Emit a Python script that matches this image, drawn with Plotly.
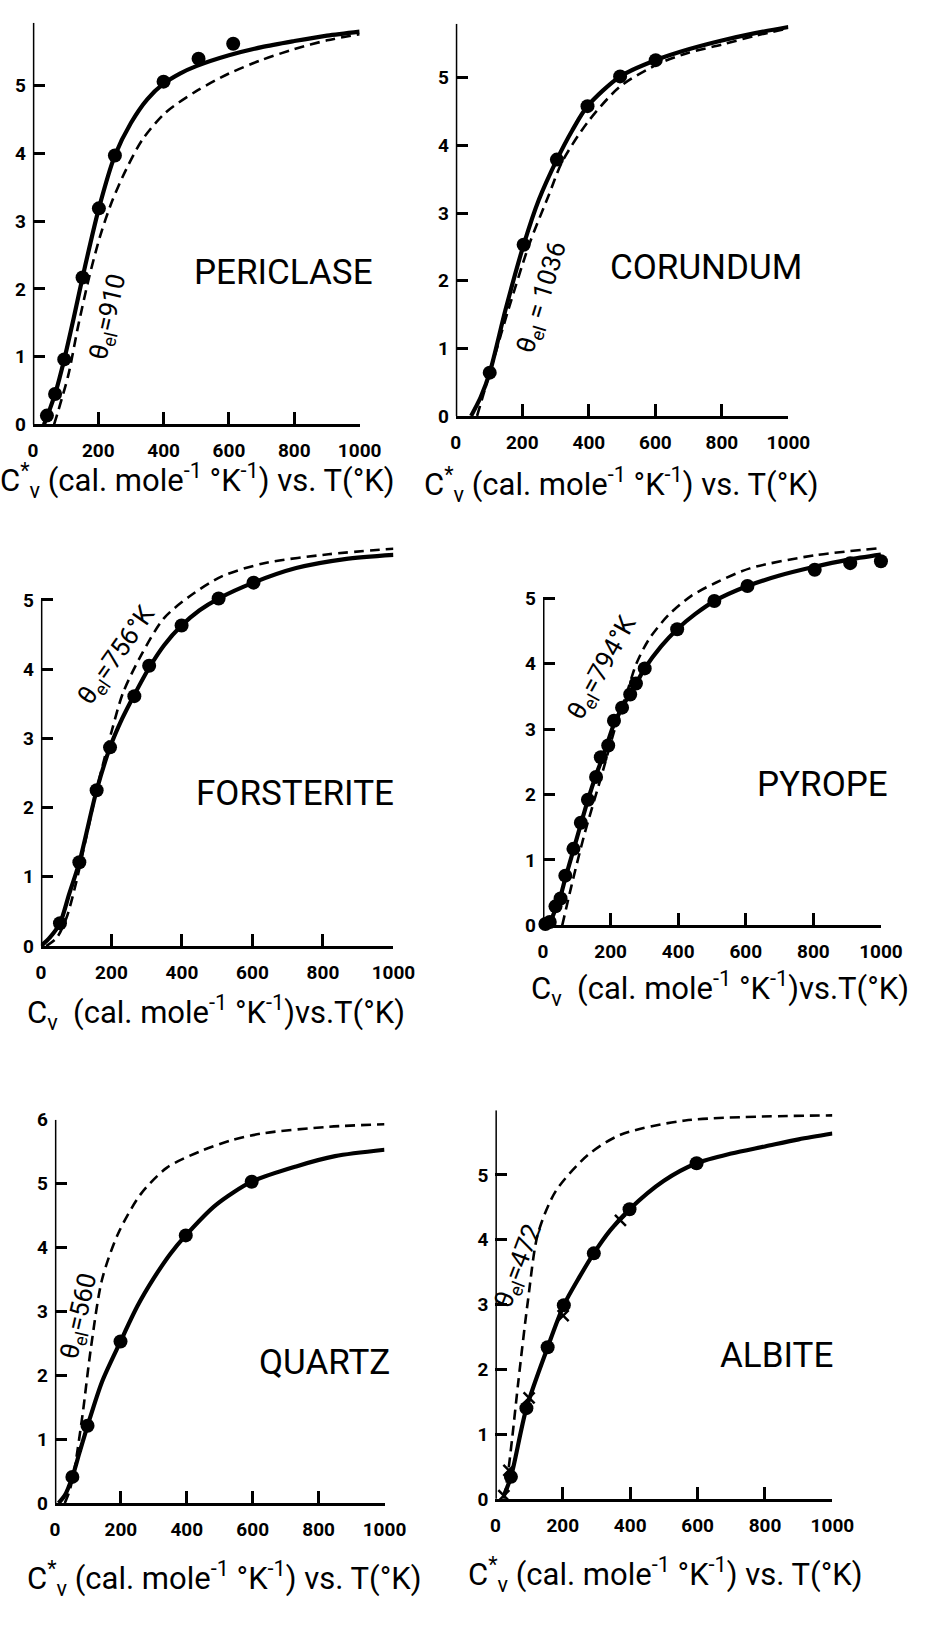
import plotly.graph_objects as go

W, H = 935, 1642
FONT = "Roboto, Liberation Sans, sans-serif"

T_TICKS = [0, 200, 400, 600, 800, 1000]

# ---------------- data ----------------
# Periclase
per_obs_T = [43, 68, 96, 152, 202, 251, 400, 507, 613]
per_obs_C = [0.13, 0.45, 0.96, 2.17, 3.19, 3.97, 5.06, 5.40, 5.62]
per_fit_T = [34, 50, 68, 96, 125, 152, 202, 251, 300, 350, 400, 450, 500, 600, 700, 800, 900, 1000]
per_fit_C = [0.0, 0.2, 0.45, 0.96, 1.57, 2.17, 3.19, 3.97, 4.45, 4.80, 5.03, 5.18, 5.29, 5.45, 5.57, 5.66, 5.74, 5.80]
per_deb_T = [65, 108, 138, 172, 207, 242, 286, 336, 405, 500, 600, 700, 800, 900, 1000]
per_deb_C = [0.0, 0.72, 1.44, 2.17, 2.80, 3.29, 3.77, 4.21, 4.60, 4.92, 5.18, 5.38, 5.54, 5.67, 5.76]

# Corundum
cor_obs_T = [102, 204, 304, 396, 494, 601]
cor_obs_C = [0.64, 2.53, 3.79, 4.58, 5.02, 5.26]
cor_fit_T = [46, 75, 102, 150, 204, 250, 304, 350, 396, 494, 601, 700, 800, 900, 1000]
cor_fit_C = [0.0, 0.28, 0.64, 1.58, 2.53, 3.20, 3.79, 4.22, 4.58, 5.02, 5.26, 5.42, 5.55, 5.66, 5.75]
cor_deb_T = [64, 114, 158, 221, 280, 319, 396, 494, 611, 700, 800, 900, 1000]
cor_deb_C = [0.0, 0.84, 1.57, 2.54, 3.27, 3.75, 4.34, 4.87, 5.21, 5.37, 5.49, 5.62, 5.73]

# Forsterite
for_obs_T = [54, 109, 158, 196, 265, 307, 399, 504, 603]
for_obs_C = [0.33, 1.21, 2.25, 2.87, 3.61, 4.05, 4.63, 5.02, 5.25]
for_fit_T = [0, 25, 54, 80, 109, 158, 196, 230, 265, 307, 350, 399, 450, 504, 603, 724, 862, 1000]
for_fit_C = [0.0, 0.12, 0.33, 0.75, 1.21, 2.25, 2.87, 3.28, 3.63, 4.02, 4.35, 4.63, 4.85, 5.02, 5.25, 5.46, 5.59, 5.65]
for_deb_T = [15, 45, 72, 100, 128, 164, 201, 233, 284, 348, 421, 513, 633, 816, 1000]
for_deb_C = [0.0, 0.12, 0.40, 0.92, 1.56, 2.38, 3.11, 3.66, 4.20, 4.73, 5.05, 5.34, 5.53, 5.66, 5.74]

# Pyrope
pyr_obs_T = [7, 20, 37, 52, 66, 90, 112, 133, 157, 171, 193, 210, 234, 258, 275, 301, 397, 507, 605, 804, 909, 1000]
pyr_obs_C = [0.02, 0.05, 0.29, 0.41, 0.76, 1.17, 1.57, 1.92, 2.27, 2.57, 2.75, 3.13, 3.33, 3.53, 3.70, 3.93, 4.53, 4.96, 5.19, 5.44, 5.54, 5.57]
pyr_fit_T = [0, 20, 37, 52, 66, 90, 112, 133, 157, 180, 210, 234, 258, 280, 301, 350, 397, 450, 507, 605, 700, 800, 900, 1000]
pyr_fit_C = [0.0, 0.05, 0.25, 0.45, 0.72, 1.15, 1.55, 1.92, 2.30, 2.62, 3.08, 3.33, 3.55, 3.74, 3.93, 4.27, 4.53, 4.76, 4.96, 5.19, 5.35, 5.48, 5.59, 5.67]
pyr_deb_T = [57, 84, 123, 171, 218, 252, 276, 314, 372, 439, 511, 612, 804, 1000]
pyr_deb_C = [0.0, 0.60, 1.40, 2.25, 3.10, 3.62, 4.00, 4.38, 4.75, 5.04, 5.24, 5.46, 5.66, 5.77]

# Quartz
qtz_obs_T = [53, 99, 199, 397, 597]
qtz_obs_C = [0.41, 1.21, 2.53, 4.19, 5.03]
qtz_fit_T = [11, 30, 53, 75, 99, 143, 199, 250, 300, 350, 397, 487, 597, 732, 850, 1000]
qtz_fit_C = [0.0, 0.12, 0.41, 0.80, 1.21, 1.90, 2.53, 3.08, 3.52, 3.90, 4.19, 4.66, 5.03, 5.27, 5.43, 5.53]
qtz_deb_T = [30, 45, 60, 84, 109, 143, 192, 261, 340, 438, 536, 634, 831, 1000]
qtz_deb_C = [0.0, 0.2, 0.55, 1.39, 2.42, 3.50, 4.22, 4.84, 5.25, 5.50, 5.68, 5.79, 5.89, 5.93]

# Albite
alb_obs_T = [46, 92, 155, 203, 292, 398, 597]
alb_obs_C = [0.34, 1.40, 2.34, 2.99, 3.79, 4.47, 5.18]
alb_x_T = [25, 40, 100, 201, 371]
alb_x_C = [0.05, 0.44, 1.56, 2.83, 4.30]
alb_fit_T = [25, 46, 92, 155, 203, 250, 292, 340, 398, 500, 597, 700, 800, 900, 1000]
alb_fit_C = [0.05, 0.34, 1.40, 2.34, 2.99, 3.43, 3.79, 4.14, 4.47, 4.91, 5.18, 5.33, 5.44, 5.55, 5.64]
alb_deb_T = [25, 35, 50, 68, 97, 126, 179, 275, 371, 563, 1000]
alb_deb_C = [0.0, 0.3, 0.95, 1.81, 3.08, 4.09, 4.75, 5.31, 5.62, 5.84, 5.92]

NAMES = ["PERICLASE", "CORUNDUM", "FORSTERITE", "PYROPE", "QUARTZ", "ALBITE"]
THETA = ["θ<sub>el</sub>=910", "θ<sub>el</sub> = 1036", "θ<sub>el</sub>=756°K",
         "θ<sub>el</sub>=794°K", "θ<sub>el</sub>=560", "θ<sub>el</sub>=472"]
XLABEL_STAR = "C<sup>*</sup><sub>v</sub> (cal. mole<sup>-1</sup> °K<sup>-1</sup>) vs. T(°K)"
XLABEL_PLAIN = "C<sub>v</sub>  (cal. mole<sup>-1</sup> °K<sup>-1</sup>)vs.T(°K)"

panels = [
    dict(obs=(per_obs_T, per_obs_C), fit=(per_fit_T, per_fit_C), deb=(per_deb_T, per_deb_C)),
    dict(obs=(cor_obs_T, cor_obs_C), fit=(cor_fit_T, cor_fit_C), deb=(cor_deb_T, cor_deb_C)),
    dict(obs=(for_obs_T, for_obs_C), fit=(for_fit_T, for_fit_C), deb=(for_deb_T, for_deb_C)),
    dict(obs=(pyr_obs_T, pyr_obs_C), fit=(pyr_fit_T, pyr_fit_C), deb=(pyr_deb_T, pyr_deb_C)),
    dict(obs=(qtz_obs_T, qtz_obs_C), fit=(qtz_fit_T, qtz_fit_C), deb=(qtz_deb_T, qtz_deb_C)),
    dict(obs=(alb_obs_T, alb_obs_C), fit=(alb_fit_T, alb_fit_C), deb=(alb_deb_T, alb_deb_C)),
]

# ---------------- layout geometry (pixels) ----------------
geo = [
    dict(x0=28.7, x1=365.2, yb=419.3, pu=68.7, top=5.93, line_top=5.93, yt=[0, 1, 2, 3, 4, 5], show6=False),
    dict(x0=464.2, x1=806.7, yb=410.7, pu=68.6, top=5.8, line_top=5.8, yt=[0, 1, 2, 3, 4, 5], show6=False),
    dict(x0=37.0, x1=400.0, yb=948.3, pu=70.2, top=5.8, line_top=5.0, yt=[0, 1, 2, 3, 4, 5], show6=False),
    dict(x0=554.0, x1=902.0, yb=927.3, pu=66.3, top=5.85, line_top=5.0, yt=[0, 1, 2, 3, 4, 5], show6=False),
    dict(x0=51.4, x1=390.8, yb=1513.3, pu=64.8, top=6.0, line_top=6.0, yt=[0, 1, 2, 3, 4, 5, 6], show6=True),
    dict(x0=505.0, x1=852.0, yb=1509.0, pu=65.7, top=6.0, line_top=6.0, yt=[0, 1, 2, 3, 4, 5, 6], show6=False),
]
name_pos = [(767, 2.25), (752, 2.2), (722, 2.2), (828, 2.16), (819, 2.2), (835, 2.21)]
theta_pos = [(232, 1.59, -77), (262, 1.76, -73), (215, 4.2, -55), (176, 3.95, -61), (76, 2.93, -77), (68, 3.59, -69)]
xlab_pos = [(198, 476, XLABEL_STAR), (634, 480, XLABEL_STAR), (217, 1016, XLABEL_PLAIN),
            (736, 991, XLABEL_PLAIN), (226, 1590, XLABEL_STAR), (680, 1586, XLABEL_STAR)]

fig = go.Figure()
layout = dict(width=W, height=H, margin=dict(l=0, r=0, t=0, b=0),
              paper_bgcolor="white", plot_bgcolor="white", showlegend=False,
              font=dict(family=FONT, color="black"))
shapes = []
annotations = []
TICKFONT = dict(family=FONT, size=19, color="black", weight="bold")

for i, (p, g) in enumerate(zip(panels, geo)):
    k = "" if i == 0 else str(i + 1)
    xa, ya = "x" + k, "y" + k
    ytop_px = g["yb"] - g["top"] * g["pu"]
    layout["xaxis" + k] = dict(
        domain=[g["x0"] / W, g["x1"] / W], range=[0, 1000], anchor=ya,
        tickvals=T_TICKS, ticktext=[str(t) for t in T_TICKS],
        ticks="inside", ticklen=12, tickwidth=2.5, tickcolor="black",
        showline=True, linewidth=3, linecolor="black", showgrid=False, zeroline=False,
        tickfont=TICKFONT, ticklabelstandoff=7, fixedrange=True)
    ytext = [str(v) if (v < 6 or g["show6"]) else "" for v in g["yt"]]
    layout["yaxis" + k] = dict(
        domain=[1 - g["yb"] / H, 1 - ytop_px / H], range=[0, g["top"]], anchor=xa,
        tickvals=g["yt"], ticktext=ytext,
        ticks="inside", ticklen=12, tickwidth=2.5, tickcolor="black",
        showline=False, showgrid=False, zeroline=False,
        tickfont=TICKFONT, ticklabelstandoff=6, fixedrange=True)
    shapes.append(dict(type="line", xref=xa, yref=ya, x0=0, x1=0, y0=-0.03, y1=g["line_top"],
                       line=dict(color="black", width=3), layer="above"))

    fig.add_trace(go.Scatter(x=p["deb"][0], y=p["deb"][1], mode="lines", xaxis=xa, yaxis=ya,
                             line=dict(color="black", width=2.6, dash="10px,6px", shape="spline", smoothing=0.8),
                             hoverinfo="skip"))
    fig.add_trace(go.Scatter(x=p["fit"][0], y=p["fit"][1], mode="lines", xaxis=xa, yaxis=ya,
                             line=dict(color="black", width=4.2, shape="spline", smoothing=0.8),
                             hoverinfo="skip"))
    fig.add_trace(go.Scatter(x=p["obs"][0], y=p["obs"][1], mode="markers", xaxis=xa, yaxis=ya,
                             marker=dict(color="black", size=14), cliponaxis=False))
    if i == 5:
        fig.add_trace(go.Scatter(x=alb_x_T, y=alb_x_C, mode="markers", xaxis=xa, yaxis=ya,
                                 marker=dict(color="black", size=11, symbol="x-thin",
                                             line=dict(color="black", width=2.5)),
                                 cliponaxis=False))

    nx, ny = name_pos[i]
    annotations.append(dict(x=nx, y=ny, xref=xa, yref=ya, text=NAMES[i], showarrow=False,
                            font=dict(family=FONT, size=35, color="black")))
    tx, ty, ang = theta_pos[i]
    annotations.append(dict(x=tx, y=ty, xref=xa, yref=ya, text=THETA[i], showarrow=False,
                            textangle=ang, font=dict(family=FONT, size=26, color="black")))
    lx, ly, lt = xlab_pos[i]
    annotations.append(dict(x=lx / W, y=1 - ly / H, xref="paper", yref="paper", text=lt,
                            showarrow=False, xanchor="center", yanchor="middle",
                            font=dict(family=FONT, size=31, color="black")))

layout["shapes"] = shapes
layout["annotations"] = annotations
fig.update_layout(**layout)
fig.write_html("out.html")
